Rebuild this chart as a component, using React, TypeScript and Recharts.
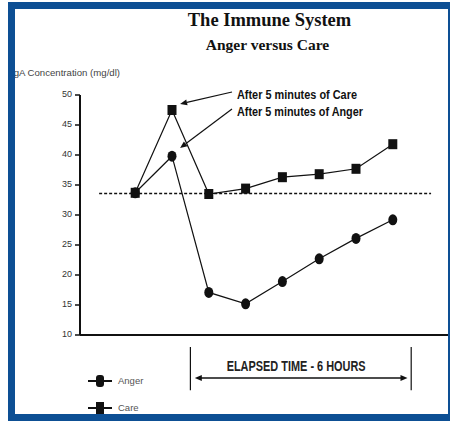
import React from 'react';
import {
  ComposedChart,
  Line,
  XAxis,
  YAxis,
  ReferenceLine,
  Legend,
  Label
} from 'recharts';

// --- Data ---
const timePoints = [1.5, 2.5, 3.5, 4.5, 5.5, 6.5, 7.5, 8.5];
const careValues = [33.7, 47.5, 33.5, 34.4, 36.3, 36.8, 37.7, 41.8];
const angerValues = [33.7, 39.8, 17.1, 15.2, 18.9, 22.7, 26.1, 29.2];
const baselineValue = 33.6;
const yTicks = [10, 15, 20, 25, 30, 35, 40, 45, 50];
const xTicks = [0, 1, 2, 3, 4, 5, 6, 7, 8, 9, 10];

const data = timePoints.map((t, i) => ({ t, care: careValues[i], anger: angerValues[i] }));

const ink = '#111';
const blue = '#0d4f94';
const sans = "'Liberation Sans', Arial, sans-serif";
const serif = "'Liberation Serif', 'Times New Roman', serif";

// --- Marker shapes ---
const SquareDot = (props: any) => {
  const { cx, cy, index } = props;
  if (cx == null || cy == null) return null;
  return <rect key={`sq-${index}`} x={cx - 4.5} y={cy - 5} width={9} height={10} fill={ink} />;
};

const RoundDot = (props: any) => {
  const { cx, cy, index } = props;
  if (cx == null || cy == null) return null;
  return <ellipse key={`rd-${index}`} cx={cx} cy={cy} rx={4.5} ry={5.5} fill={ink} />;
};

const YTick = ({ x, y, payload }: any) => (
  <text x={x - 1} y={y + 2} textAnchor="end" fontSize={9} fill="#333" fontFamily={sans}>
    {payload.value}
  </text>
);

// arrow with head at the (x2, y2) end and a condensed bold caption at the start
const annotationArrow = (text: string, len: number) => (p: any) => {
  const { x1, y1, x2, y2 } = p;
  const a = Math.atan2(y2 - y1, x2 - x1);
  const L = 7, W = 3;
  const bx = x2 - L * Math.cos(a), by = y2 - L * Math.sin(a);
  const px = -Math.sin(a) * W, py = Math.cos(a) * W;
  return (
    <g>
      <line x1={x1} y1={y1} x2={bx} y2={by} stroke={ink} strokeWidth={1.2} />
      <polygon points={`${x2},${y2} ${bx + px},${by + py} ${bx - px},${by - py}`} fill={ink} />
      <text
        x={x1 + 5}
        y={y1 + 7}
        fontSize={13.5}
        fontWeight="bold"
        fill="#111"
        fontFamily={sans}
        textLength={len}
        lengthAdjust="spacingAndGlyphs"
      >
        {text}
      </text>
    </g>
  );
};

const doubleArrow = (p: any) => {
  const { x1, y1, x2 } = p;
  return (
    <g>
      <line x1={x1 + 6} y1={y1} x2={x2 - 6} y2={y1} stroke={ink} strokeWidth={1.5} />
      <polygon points={`${x1},${y1} ${x1 + 7},${y1 - 3} ${x1 + 7},${y1 + 3}`} fill={ink} />
      <polygon points={`${x2},${y1} ${x2 - 7},${y1 - 3} ${x2 - 7},${y1 + 3}`} fill={ink} />
    </g>
  );
};

const ElapsedLabel = ({ viewBox }: any) => {
  const { x, y, width } = viewBox;
  return (
    <text
      x={x + width / 2 - 5}
      y={y - 7}
      textAnchor="middle"
      fontFamily={sans}
      fontSize={14.5}
      fontWeight="bold"
      fill="#222"
      textLength={139}
      lengthAdjust="spacingAndGlyphs"
    >
      ELAPSED TIME - 6 HOURS
    </text>
  );
};

const LegendContent = ({ payload }: any) => (
  <div style={{ fontFamily: sans, fontSize: 9.5, color: '#555' }}>
    {(payload || []).map((entry: any) => (
      <div key={entry.value} style={{ display: 'flex', alignItems: 'center', height: 27 }}>
        <svg width={26} height={14}>
          <line x1={1} y1={7} x2={25} y2={7} stroke={ink} strokeWidth={2} />
          {entry.dataKey === 'anger' ? (
            <rect x={9} y={1} width={8} height={12} rx={3} fill={ink} />
          ) : (
            <rect x={9} y={1} width={8} height={12} fill={ink} />
          )}
        </svg>
        <span style={{ marginLeft: 5 }}>{entry.value}</span>
      </div>
    ))}
  </div>
);

export default function App() {
  return (
    <div style={{ position: 'absolute', left: 0, top: 0, width: 450, height: 421, background: '#fff', overflow: 'hidden' }}>
      <ComposedChart
        width={450}
        height={421}
        data={data}
        margin={{ top: 95, right: 2, bottom: 76, left: 30 }}
      >
        <XAxis
          dataKey="t"
          type="number"
          domain={[0, 10]}
          ticks={xTicks}
          tick={false}
          tickSize={7}
          height={10}
          axisLine={{ stroke: ink, strokeWidth: 2 }}
          tickLine={{ stroke: ink, strokeWidth: 1.5 }}
        />
        <YAxis
          type="number"
          domain={[10, 50]}
          ticks={yTicks}
          width={50}
          tickSize={5}
          tick={<YTick />}
          axisLine={{ stroke: ink, strokeWidth: 2 }}
          tickLine={{ stroke: ink, strokeWidth: 1.5 }}
        />
        <ReferenceLine
          segment={[{ x: 0.52, y: baselineValue }, { x: 9.54, y: baselineValue }]}
          stroke={ink}
          strokeWidth={1.5}
          strokeDasharray="3 2"
          ifOverflow="visible"
        />
        <Line
          dataKey="anger"
          name="Anger"
          stroke={ink}
          strokeWidth={1.2}
          dot={<RoundDot />}
          activeDot={false}
          isAnimationActive={false}
        />
        <Line
          dataKey="care"
          name="Care"
          stroke={ink}
          strokeWidth={1.2}
          dot={<SquareDot />}
          activeDot={false}
          isAnimationActive={false}
        />
        <ReferenceLine
          segment={[{ x: 4.13, y: 50.5 }, { x: 2.72, y: 48.5 }]}
          ifOverflow="visible"
          shape={annotationArrow('After 5 minutes of Care', 120)}
        />
        <ReferenceLine
          segment={[{ x: 4.13, y: 47.67 }, { x: 2.72, y: 41.17 }]}
          ifOverflow="visible"
          shape={annotationArrow('After 5 minutes of Anger', 126)}
        />
        <ReferenceLine
          segment={[{ x: 3, y: 8.0 }, { x: 3, y: 0.8 }]}
          stroke={ink}
          strokeWidth={1.2}
          ifOverflow="visible"
        />
        <ReferenceLine
          segment={[{ x: 9, y: 8.0 }, { x: 9, y: 0.8 }]}
          stroke={ink}
          strokeWidth={1.2}
          ifOverflow="visible"
        />
        <ReferenceLine
          segment={[{ x: 3.12, y: 2.83 }, { x: 8.9, y: 2.83 }]}
          ifOverflow="visible"
          shape={doubleArrow}
        >
          <Label content={<ElapsedLabel />} />
        </ReferenceLine>
        <Legend
          layout="vertical"
          align="center"
          verticalAlign="middle"
          content={<LegendContent />}
          wrapperStyle={{ left: 87, top: 367, width: 80 }}
        />
      </ComposedChart>

      <svg width={450} height={421} style={{ position: 'absolute', left: 0, top: 0, pointerEvents: 'none' }}>
        <text x={269.5} y={26} textAnchor="middle" fontFamily={serif} fontWeight="bold" fontSize={18.5} fill="#111">
          The Immune System
        </text>
        <text x={267.5} y={50} textAnchor="middle" fontFamily={serif} fontWeight="bold" fontSize={15.5} fill="#111">
          Anger versus Care
        </text>
        <text x={11} y={76} fontFamily={sans} fontSize={9} fill="#444" textLength={109} lengthAdjust="spacingAndGlyphs">
          IgA Concentration (mg/dl)
        </text>
      </svg>

      <div
        style={{
          position: 'absolute',
          left: 8,
          top: 2,
          width: 442,
          height: 419,
          boxSizing: 'border-box',
          borderLeft: `7px solid ${blue}`,
          borderTop: `7px solid ${blue}`,
          borderBottom: `7px solid ${blue}`,
          borderRight: `2px solid ${blue}`,
          pointerEvents: 'none'
        }}
      />
    </div>
  );
}
